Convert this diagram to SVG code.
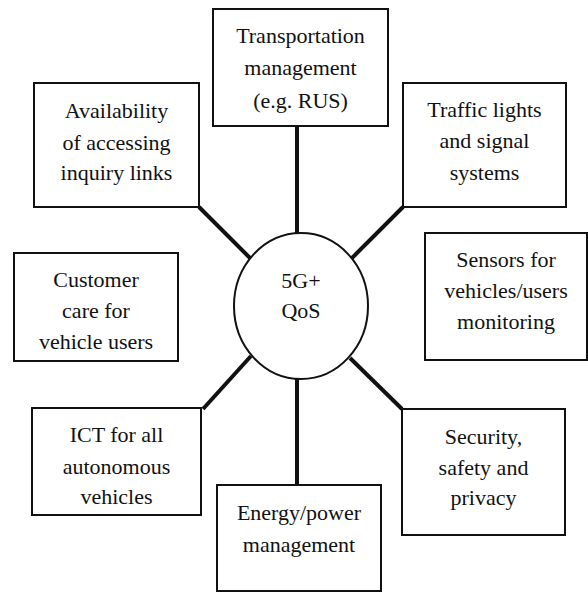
<svg xmlns="http://www.w3.org/2000/svg" width="588" height="592" viewBox="0 0 588 592">
<style>
.box{fill:#fff;stroke:#111;stroke-width:2}
.hub{fill:#fff;stroke:#111;stroke-width:2}
.con{stroke:#111;stroke-width:4;fill:none}
.t{font-family:'Liberation Serif','Times New Roman','DejaVu Serif',serif;font-size:22px;fill:#111;text-anchor:middle}
</style>
<rect width="588" height="592" fill="#fff"/>
<g id="connectors">
<line class="con" x1="297" y1="126" x2="297" y2="234"/>
<line class="con" x1="297" y1="378" x2="297" y2="485"/>
<line class="con" x1="199" y1="207" x2="251" y2="259"/>
<line class="con" x1="403" y1="207" x2="351" y2="259"/>
<line class="con" x1="203" y1="409" x2="251" y2="356"/>
<line class="con" x1="402" y1="409" x2="350" y2="358"/>
</g>
<g id="hub">
<ellipse class="hub" cx="301" cy="306" rx="67" ry="73"/>
<text class="t" x="301" y="288">5G+</text>
<text class="t" x="301" y="318">QoS</text>
</g>
<g id="transport">
<rect class="box" x="213" y="9" width="175" height="117"/>
<text class="t" x="300.5" y="43">Transportation</text>
<text class="t" x="300.5" y="75">management</text>
<text class="t" x="300.5" y="108">(e.g. RUS)</text>
</g>
<g id="availability">
<rect class="box" x="34" y="83" width="165" height="124"/>
<text class="t" x="116.5" y="118">Availability</text>
<text class="t" x="116.5" y="150">of accessing</text>
<text class="t" x="116.5" y="180">inquiry links</text>
</g>
<g id="traffic">
<rect class="box" x="403" y="83" width="163" height="124"/>
<text class="t" x="484.5" y="117">Traffic lights</text>
<text class="t" x="484.5" y="148">and signal</text>
<text class="t" x="484.5" y="180">systems</text>
</g>
<g id="customer">
<rect class="box" x="14" y="253" width="164" height="108"/>
<text class="t" x="96" y="287">Customer</text>
<text class="t" x="96" y="318">care for</text>
<text class="t" x="96" y="349">vehicle users</text>
</g>
<g id="sensors">
<rect class="box" x="425" y="233" width="162" height="127"/>
<text class="t" x="506" y="267">Sensors for</text>
<text class="t" x="506" y="298">vehicles/users</text>
<text class="t" x="506" y="329">monitoring</text>
</g>
<g id="ict">
<rect class="box" x="32" y="408" width="169" height="107"/>
<text class="t" x="116.5" y="442">ICT for all</text>
<text class="t" x="116.5" y="474">autonomous</text>
<text class="t" x="116.5" y="504">vehicles</text>
</g>
<g id="security">
<rect class="box" x="402" y="409" width="163" height="126"/>
<text class="t" x="483.5" y="444">Security,</text>
<text class="t" x="483.5" y="475">safety and</text>
<text class="t" x="483.5" y="505">privacy</text>
</g>
<g id="energy">
<rect class="box" x="217" y="485" width="164" height="106"/>
<text class="t" x="299" y="520">Energy/power</text>
<text class="t" x="299" y="552">management</text>
</g>
</svg>
